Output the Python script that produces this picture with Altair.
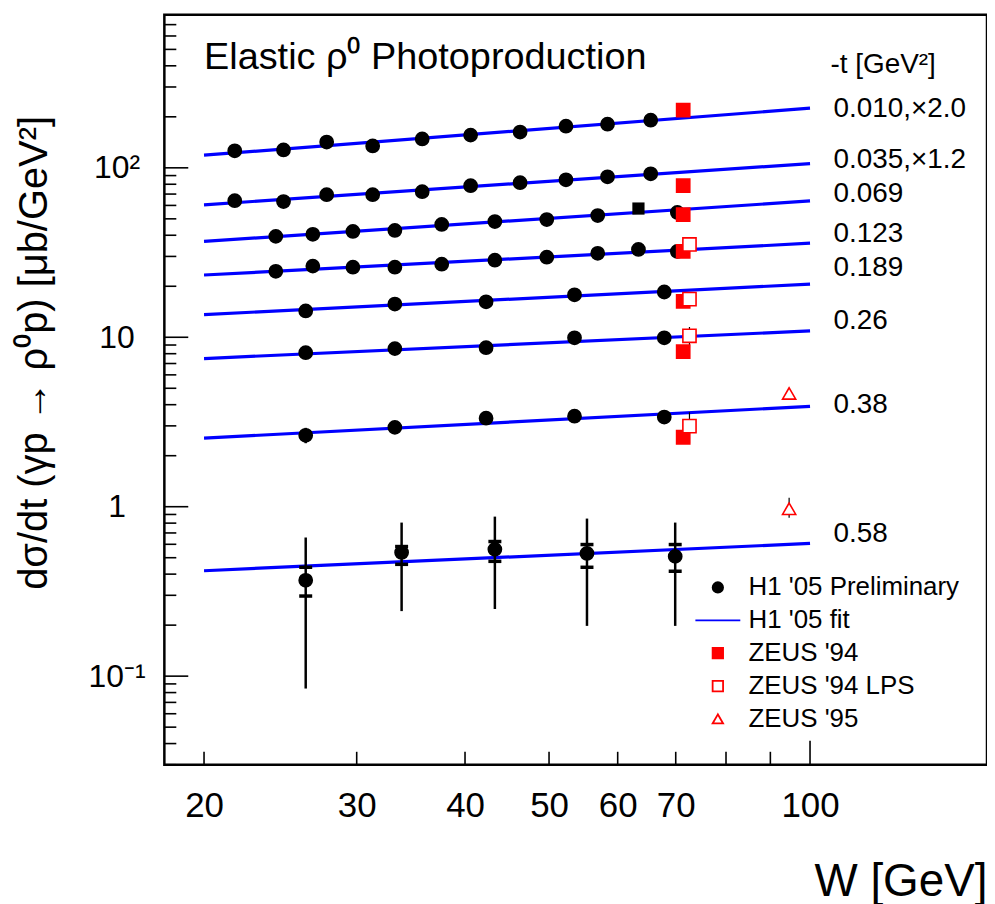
import altair as alt
import pandas as pd

FONT = "Liberation Sans"

# ---------------- axis ticks ----------------
x_minor_ticks = [20, 30, 40, 50, 60, 70, 80, 90]
x_major_ticks = [100]
x_label_values = [20, 30, 40, 50, 60, 70, 100]
y_major_ticks = [0.1, 1, 10, 100]
y_minor_ticks = [0.03, 0.04, 0.05, 0.06, 0.07, 0.08, 0.09,
                 0.2, 0.3, 0.4, 0.5, 0.6, 0.7, 0.8, 0.9,
                 2, 3, 4, 5, 6, 7, 8, 9,
                 20, 30, 40, 50, 60, 70, 80, 90,
                 200, 300, 400, 500, 600, 700]

# ---------------- -t bins ----------------
t_labels = ["0.010,×2.0", "0.035,×1.2", "0.069", "0.123", "0.189", "0.26", "0.38", "0.58"]
t_label_y = [222, 111, 70.4, 40.5, 25.6, 12.5, 3.98, 0.69]
t_label_W = 106.4
t_header = "-t [GeV²]"
t_header_W = 105.6
t_header_y = 407
title_text = "Elastic ρ⁰ Photoproduction"
title_W = 20
title_y = 381

# ---------------- H1 '05 preliminary ----------------
h1_W_a = [21.7, 24.7, 27.7, 31.3, 35.7, 40.6, 46.3, 52.3, 58.4, 65.5]
h1_t1 = [126, 127.5, 142, 134.6, 148, 156, 162.6, 176, 181, 191]
h1_t2 = [64.0, 63.2, 69.4, 69.4, 72.3, 78.4, 81.7, 85.0, 88.5, 92.2]
h1_W_b3 = [24.2, 26.7, 29.7, 33.2, 37.6, 43.3, 49.7, 56.9, 70.3]
h1_t3 = [39.4, 40.5, 42.1, 42.7, 46.3, 48.2, 49.5, 52.3, 54.5]
h1_W_b = [24.2, 26.7, 29.7, 33.2, 37.6, 43.3, 49.7, 56.9, 63.4, 70.3]
h1_t4 = [24.5, 26.3, 25.9, 25.9, 27.0, 28.5, 29.7, 31.3, 33.0, 32.1]
h1_W_c = [26.2, 33.2, 42.3, 53.5, 67.9]
h1_t5 = [14.3, 15.7, 16.2, 17.8, 18.5]
h1_t6 = [8.11, 8.57, 8.68, 9.93, 9.93]
h1_t7 = [2.64, 2.94, 3.33, 3.42, 3.38]
h1_W_d = [26.2, 33.8, 43.3, 55.3, 69.9]
h1_t8 = [0.368, 0.537, 0.560, 0.530, 0.509]
h1_t8_tot_lo = [0.0845, 0.242, 0.249, 0.198, 0.198]
h1_t8_tot_hi = [0.658, 0.806, 0.874, 0.851, 0.806]
h1_t8_stat_lo = [0.297, 0.457, 0.476, 0.439, 0.416]
h1_t8_stat_hi = [0.439, 0.582, 0.623, 0.598, 0.598]
h1_t7_err_W = [26.2]
h1_t7_err_lo = [2.37]
h1_t7_err_hi = [2.92]
h1_square_W = [63.4]
h1_square_v = [57.5]

# ---------------- H1 '05 fit (values at W = 20 and 100 GeV) ----------------
fit_W = [20, 100]
fit_at_20 = [118.7, 60.5, 36.8, 23.3, 13.6, 7.49, 2.54, 0.419]
fit_at_100 = [225, 106, 63.8, 35.9, 20.6, 10.9, 3.91, 0.607]

# ---------------- ZEUS ----------------
zeus94_W = 71.4
zeus94_v = [219, 78.4, 53.0, 32.1, 16.3, 8.22, 2.57]
zeus94lps_W = 72.6
zeus94lps_v = [35.3, 16.8, 10.2, 2.99]
zeus94lps_err_lo = [8.68, 2.37]
zeus94lps_err_hi = [11.5, 3.61]
zeus95_W = 94.6
zeus95_v = [4.66, 0.973]
zeus95_err_lo = [0.86]
zeus95_err_hi = [1.13]

series_domain = ["H1 '05 Preliminary", "H1 '05 fit", "ZEUS '94", "ZEUS '94 LPS", "ZEUS '95"]
shape_range = ["circle", "M-4.3,0H4.3", "square", "square", "triangle-up"]
stroke_range = ["black", "#0000ff", "red", "red", "red"]
fill_range = ["black", "transparent", "red", "white", "white"]

# ---------------- build tables ----------------
pts = []
for W, vals in [(h1_W_a, h1_t1), (h1_W_a, h1_t2), (h1_W_b3, h1_t3), (h1_W_b, h1_t4),
                (h1_W_c, h1_t5), (h1_W_c, h1_t6), (h1_W_c, h1_t7), (h1_W_d, h1_t8)]:
    for w, v in zip(W, vals):
        pts.append({"W": w, "v": v, "series": series_domain[0]})
for v in zeus94_v:
    pts.append({"W": zeus94_W, "v": v, "series": series_domain[2]})
for v in zeus94lps_v:
    pts.append({"W": zeus94lps_W, "v": v, "series": series_domain[3]})
for v in zeus95_v:
    pts.append({"W": zeus95_W, "v": v, "series": series_domain[4]})
pts_df = pd.DataFrame(pts)

fit_rows = []
for i, (a, b) in enumerate(zip(fit_at_20, fit_at_100)):
    fit_rows.append({"W": fit_W[0], "v": a, "row": i, "series": series_domain[1]})
    fit_rows.append({"W": fit_W[1], "v": b, "row": i, "series": series_domain[1]})
fit_df = pd.DataFrame(fit_rows)

err_rows = []
for w, lo, hi in zip(h1_W_d, h1_t8_tot_lo, h1_t8_tot_hi):
    err_rows.append({"W": w, "lo": lo, "hi": hi})
for w, lo, hi in zip(h1_t7_err_W, h1_t7_err_lo, h1_t7_err_hi):
    err_rows.append({"W": w, "lo": lo, "hi": hi})
err_df = pd.DataFrame(err_rows)

thin_err = []
for lo, hi in zip(zeus94lps_err_lo, zeus94lps_err_hi):
    thin_err.append({"W": zeus94lps_W, "lo": lo, "hi": hi})
for lo, hi in zip(zeus95_err_lo, zeus95_err_hi):
    thin_err.append({"W": zeus95_W, "lo": lo, "hi": hi})
thin_err_df = pd.DataFrame(thin_err)

cap_rows = []
for w, lo, hi in zip(h1_W_d, h1_t8_stat_lo, h1_t8_stat_hi):
    cap_rows.append({"W": w, "v": lo})
    cap_rows.append({"W": w, "v": hi})
cap_df = pd.DataFrame(cap_rows)

sq_df = pd.DataFrame({"W": h1_square_W, "v": h1_square_v})

lab_df = pd.DataFrame({"W": [t_label_W] * len(t_labels), "v": t_label_y, "txt": t_labels})
head_df = pd.DataFrame({"W": [t_header_W], "v": [t_header_y], "txt": [t_header]})
title_df = pd.DataFrame({"W": [title_W], "v": [title_y], "txt": [title_text]})

xt_minor_df = pd.DataFrame({"W": x_minor_ticks})
xt_major_df = pd.DataFrame({"W": x_major_ticks})
yt_minor_df = pd.DataFrame({"v": y_minor_ticks})
yt_major_df = pd.DataFrame({"v": y_major_ticks})

# ---------------- scales / axes ----------------
W_PX = 826
H_PX = 753
xs = alt.Scale(type="log", domain=[18, 160], nice=False)
ys = alt.Scale(type="log", domain=[0.03, 800], nice=False)

x_axis = alt.Axis(values=x_label_values, ticks=False, tickSize=0, domain=False, grid=False,
                  format="d", labelFont=FONT, labelFontSize=35, labelColor="black",
                  labelPadding=52, labelBaseline="alphabetic", labelFlush=False,
                  labelOverlap=False, titleFont=FONT, titleFontSize=46,
                  titleFontWeight="normal", titleColor="black", titleAnchor="end",
                  titleAlign="right", titleX=W_PX, titleY=131, titleBaseline="alphabetic")
y_axis = alt.Axis(values=y_major_ticks, ticks=False, tickSize=0, domain=False, grid=False,
                  labelExpr="datum.value >= 99 ? '10²' : datum.value >= 9 ? '10' : datum.value >= 0.9 ? '1' : '10⁻¹'",
                  labelFont=FONT, labelFontSize=32, labelColor="black", labelAlign="center",
                  labelBaseline="middle", labelPadding=48, labelFlush=False, labelOverlap=False,
                  titleFont=FONT, titleFontSize=40, titleFontWeight="normal", titleColor="black",
                  titleX=-150, titleY=339, titleAngle=270, titleAlign="center",
                  titleBaseline="top")

X_TITLE = "W [GeV]"
Y_TITLE = "dσ/dt (γp → ρ⁰p) [μb/GeV²]"


def X(f="W"):
    return alt.X(f, type="quantitative", scale=xs, axis=x_axis, title=X_TITLE)


def Y(f="v"):
    return alt.Y(f, type="quantitative", scale=ys, axis=y_axis, title=Y_TITLE)


legend = alt.Legend(orient="none", legendX=542.75, legendY=562, title=None, padding=0,
                    labelFont=FONT, labelFontSize=26, labelColor="black", labelOffset=17.75,
                    symbolSize=110, symbolStrokeWidth=1.8, rowPadding=7.0, labelLimit=400)

shape_enc = alt.Shape("series:N", scale=alt.Scale(domain=series_domain, range=shape_range), legend=legend)
stroke_enc = alt.Stroke("series:N", scale=alt.Scale(domain=series_domain, range=stroke_range), legend=legend)
fill_enc = alt.Fill("series:N", scale=alt.Scale(domain=series_domain, range=fill_range), legend=legend)

fit_layer = alt.Chart(fit_df).mark_line(strokeWidth=3.2).encode(
    x=X(), y=Y(), detail="row:N", stroke=stroke_enc)

err_layer = alt.Chart(err_df).mark_rule(color="black", strokeWidth=2.5).encode(
    x=X(), y=Y("lo"), y2=alt.Y2("hi"))

thin_err_layer = alt.Chart(thin_err_df).mark_rule(color="black", strokeWidth=1.2).encode(
    x=X(), y=Y("lo"), y2=alt.Y2("hi"))

cap_layer = alt.Chart(cap_df).mark_point(shape="stroke", size=170, strokeWidth=3.5,
                                         color="black", opacity=1).encode(x=X(), y=Y())

pts_layer = alt.Chart(pts_df).mark_point(size=175, strokeWidth=1.6, opacity=1).encode(
    x=X(), y=Y(), shape=shape_enc, stroke=stroke_enc, fill=fill_enc)

sq_layer = alt.Chart(sq_df).mark_point(shape="square", size=150, filled=True, color="black",
                                       opacity=1).encode(x=X(), y=Y())

lab_layer = alt.Chart(lab_df).mark_text(align="left", baseline="middle", font=FONT,
                                        fontSize=28, color="black").encode(
    x=X(), y=Y(), text="txt:N")

head_layer = alt.Chart(head_df).mark_text(align="left", baseline="middle", font=FONT,
                                          fontSize=28, color="black").encode(
    x=X(), y=Y(), text="txt:N")

title_layer = alt.Chart(title_df).mark_text(align="left", baseline="alphabetic", font=FONT,
                                            fontSize=38, color="black").encode(
    x=X(), y=Y(), text="txt:N")

xt_minor = alt.Chart(xt_minor_df).mark_rule(color="black", strokeWidth=1.6).encode(
    x=X(), y=alt.value(H_PX), y2=alt.value(H_PX - 13))
xt_major = alt.Chart(xt_major_df).mark_rule(color="black", strokeWidth=1.6).encode(
    x=X(), y=alt.value(H_PX), y2=alt.value(H_PX - 24))
yt_minor = alt.Chart(yt_minor_df).mark_rule(color="black", strokeWidth=1.6).encode(
    y=Y(), x=alt.value(0), x2=alt.value(12))
yt_major = alt.Chart(yt_major_df).mark_rule(color="black", strokeWidth=1.6).encode(
    y=Y(), x=alt.value(0), x2=alt.value(24))

chart = alt.layer(
    fit_layer, err_layer, thin_err_layer, cap_layer, pts_layer, sq_layer,
    lab_layer, head_layer, title_layer, xt_minor, xt_major, yt_minor, yt_major
).properties(
    width=W_PX, height=H_PX,
    padding={"left": 7, "top": 5, "right": 0, "bottom": 0},
    background="white",
).configure(
    font=FONT
).configure_view(
    stroke="black", strokeWidth=2.5
)

chart.save("out.html", embed_options={"renderer": "svg", "actions": False})
